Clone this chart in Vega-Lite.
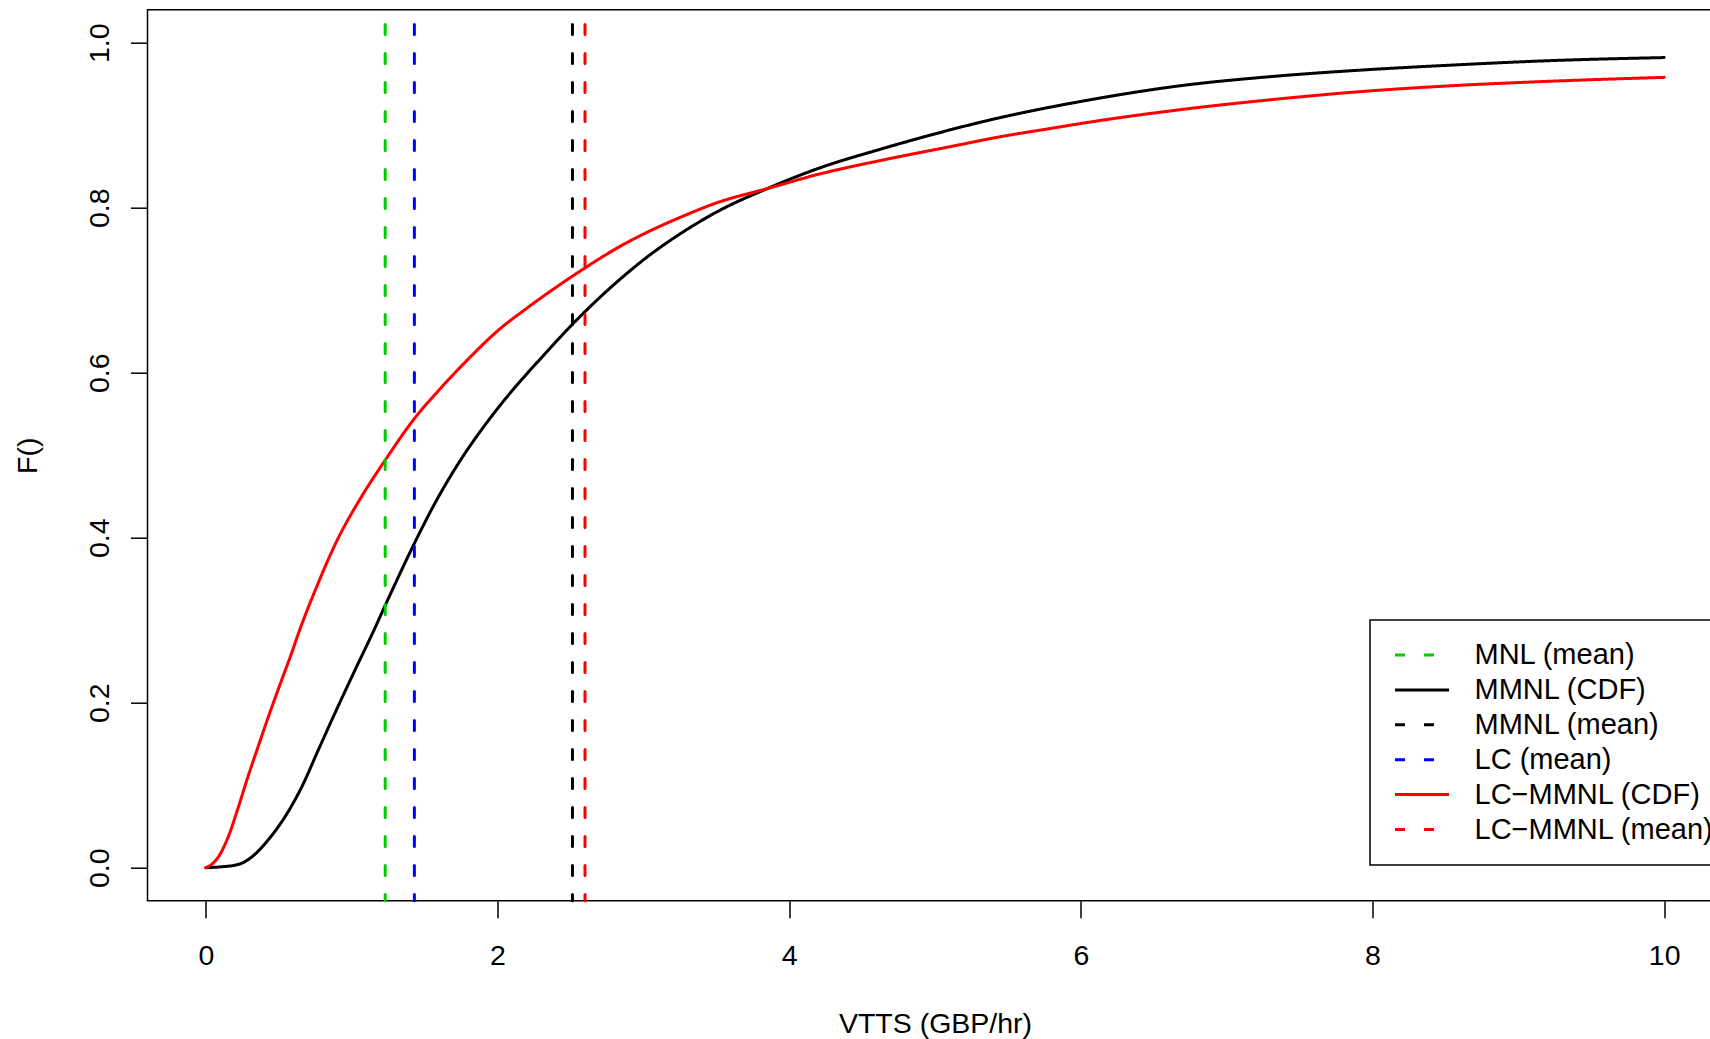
{
 "$schema": "https://vega.github.io/schema/vega-lite/v6.json",
 "width": 1575,
 "height": 891,
 "autosize": {"type": "none"},
 "padding": {"left": 147.5, "top": 9.7, "right": -12.5, "bottom": 138.3},
 "background": "white",
 "config": {
  "view": {"stroke": "black", "strokeWidth": 1.5},
  "axis": {"domain": false, "grid": false, "ticks": true, "tickSize": 17, "tickWidth": 1.5, "tickColor": "black",
   "labelFont": "Liberation Sans", "labelFontSize": 28.5, "labelColor": "black",
   "titleFont": "Liberation Sans", "titleFontSize": 28.5, "titleFontWeight": "normal", "titleColor": "black",
   "labelFlush": false, "labelOverlap": false}
 },
 "datasets": {
  "curves": [
   {"series": "MMNL (CDF)", "vtts": 0, "F": 0},
   {"series": "MMNL (CDF)", "vtts": 0.1, "F": 0.001},
   {"series": "MMNL (CDF)", "vtts": 0.224, "F": 0.004},
   {"series": "MMNL (CDF)", "vtts": 0.315, "F": 0.013},
   {"series": "MMNL (CDF)", "vtts": 0.429, "F": 0.034},
   {"series": "MMNL (CDF)", "vtts": 0.544, "F": 0.062},
   {"series": "MMNL (CDF)", "vtts": 0.658, "F": 0.098},
   {"series": "MMNL (CDF)", "vtts": 0.772, "F": 0.143},
   {"series": "MMNL (CDF)", "vtts": 0.887, "F": 0.188},
   {"series": "MMNL (CDF)", "vtts": 1.024, "F": 0.24},
   {"series": "MMNL (CDF)", "vtts": 1.161, "F": 0.291},
   {"series": "MMNL (CDF)", "vtts": 1.23, "F": 0.318},
   {"series": "MMNL (CDF)", "vtts": 1.298, "F": 0.344},
   {"series": "MMNL (CDF)", "vtts": 1.424, "F": 0.391},
   {"series": "MMNL (CDF)", "vtts": 1.584, "F": 0.446},
   {"series": "MMNL (CDF)", "vtts": 1.721, "F": 0.487},
   {"series": "MMNL (CDF)", "vtts": 1.95, "F": 0.545},
   {"series": "MMNL (CDF)", "vtts": 2.133, "F": 0.585},
   {"series": "MMNL (CDF)", "vtts": 2.316, "F": 0.621},
   {"series": "MMNL (CDF)", "vtts": 2.51, "F": 0.658},
   {"series": "MMNL (CDF)", "vtts": 2.6, "F": 0.674},
   {"series": "MMNL (CDF)", "vtts": 2.819, "F": 0.71},
   {"series": "MMNL (CDF)", "vtts": 3.047, "F": 0.743},
   {"series": "MMNL (CDF)", "vtts": 3.276, "F": 0.771},
   {"series": "MMNL (CDF)", "vtts": 3.505, "F": 0.795},
   {"series": "MMNL (CDF)", "vtts": 3.848, "F": 0.823},
   {"series": "MMNL (CDF)", "vtts": 4.19, "F": 0.847},
   {"series": "MMNL (CDF)", "vtts": 4.648, "F": 0.872},
   {"series": "MMNL (CDF)", "vtts": 4.99, "F": 0.889},
   {"series": "MMNL (CDF)", "vtts": 5.333, "F": 0.9045},
   {"series": "MMNL (CDF)", "vtts": 6.07, "F": 0.931},
   {"series": "MMNL (CDF)", "vtts": 6.69, "F": 0.948},
   {"series": "MMNL (CDF)", "vtts": 7.31, "F": 0.959},
   {"series": "MMNL (CDF)", "vtts": 7.94, "F": 0.967},
   {"series": "MMNL (CDF)", "vtts": 8.56, "F": 0.973},
   {"series": "MMNL (CDF)", "vtts": 9.18, "F": 0.978},
   {"series": "MMNL (CDF)", "vtts": 10, "F": 0.982},
   {"series": "LC−MMNL (CDF)", "vtts": 0, "F": 0},
   {"series": "LC−MMNL (CDF)", "vtts": 0.04, "F": 0.004},
   {"series": "LC−MMNL (CDF)", "vtts": 0.086, "F": 0.013},
   {"series": "LC−MMNL (CDF)", "vtts": 0.155, "F": 0.038},
   {"series": "LC−MMNL (CDF)", "vtts": 0.224, "F": 0.074},
   {"series": "LC−MMNL (CDF)", "vtts": 0.292, "F": 0.112},
   {"series": "LC−MMNL (CDF)", "vtts": 0.361, "F": 0.148},
   {"series": "LC−MMNL (CDF)", "vtts": 0.429, "F": 0.183},
   {"series": "LC−MMNL (CDF)", "vtts": 0.498, "F": 0.217},
   {"series": "LC−MMNL (CDF)", "vtts": 0.59, "F": 0.261},
   {"series": "LC−MMNL (CDF)", "vtts": 0.635, "F": 0.284},
   {"series": "LC−MMNL (CDF)", "vtts": 0.761, "F": 0.341},
   {"series": "LC−MMNL (CDF)", "vtts": 0.898, "F": 0.396},
   {"series": "LC−MMNL (CDF)", "vtts": 1.058, "F": 0.447},
   {"series": "LC−MMNL (CDF)", "vtts": 1.23, "F": 0.494},
   {"series": "LC−MMNL (CDF)", "vtts": 1.424, "F": 0.543},
   {"series": "LC−MMNL (CDF)", "vtts": 1.63, "F": 0.585},
   {"series": "LC−MMNL (CDF)", "vtts": 1.813, "F": 0.619},
   {"series": "LC−MMNL (CDF)", "vtts": 1.996, "F": 0.65},
   {"series": "LC−MMNL (CDF)", "vtts": 2.2, "F": 0.678},
   {"series": "LC−MMNL (CDF)", "vtts": 2.43, "F": 0.707},
   {"series": "LC−MMNL (CDF)", "vtts": 2.6, "F": 0.727},
   {"series": "LC−MMNL (CDF)", "vtts": 2.819, "F": 0.751},
   {"series": "LC−MMNL (CDF)", "vtts": 3.047, "F": 0.772},
   {"series": "LC−MMNL (CDF)", "vtts": 3.276, "F": 0.79},
   {"series": "LC−MMNL (CDF)", "vtts": 3.505, "F": 0.806},
   {"series": "LC−MMNL (CDF)", "vtts": 3.848, "F": 0.823},
   {"series": "LC−MMNL (CDF)", "vtts": 4.19, "F": 0.84},
   {"series": "LC−MMNL (CDF)", "vtts": 4.648, "F": 0.858},
   {"series": "LC−MMNL (CDF)", "vtts": 5.105, "F": 0.874},
   {"series": "LC−MMNL (CDF)", "vtts": 5.448, "F": 0.886},
   {"series": "LC−MMNL (CDF)", "vtts": 5.791, "F": 0.896},
   {"series": "LC−MMNL (CDF)", "vtts": 6.07, "F": 0.904},
   {"series": "LC−MMNL (CDF)", "vtts": 6.69, "F": 0.919},
   {"series": "LC−MMNL (CDF)", "vtts": 7.31, "F": 0.931},
   {"series": "LC−MMNL (CDF)", "vtts": 7.94, "F": 0.941},
   {"series": "LC−MMNL (CDF)", "vtts": 8.56, "F": 0.948},
   {"series": "LC−MMNL (CDF)", "vtts": 9.18, "F": 0.953},
   {"series": "LC−MMNL (CDF)", "vtts": 10, "F": 0.958}
  ],
  "means": [
   {"series": "MNL (mean)", "vtts": 1.23},
   {"series": "LC (mean)", "vtts": 1.43},
   {"series": "MMNL (mean)", "vtts": 2.514},
   {"series": "LC−MMNL (mean)", "vtts": 2.6}
  ]
 },
 "layer": [
  {
   "data": {"name": "curves"},
   "mark": {"type": "line", "strokeWidth": 3, "strokeJoin": "round", "strokeCap": "round", "interpolate": "monotone"},
   "encoding": {
    "x": {"field": "vtts", "type": "quantitative",
     "scale": {"domain": [-0.4, 10.4], "nice": false, "zero": false},
     "axis": {"values": [0, 2, 4, 6, 8, 10], "format": "d", "title": "VTTS (GBP/hr)",
      "labelBaseline": "alphabetic", "labelPadding": 47, "titleY": 132, "titleBaseline": "alphabetic"}},
    "y": {"field": "F", "type": "quantitative",
     "scale": {"domain": [-0.04, 1.04], "nice": false, "zero": false},
     "axis": {"values": [0, 0.2, 0.4, 0.6, 0.8, 1.0], "format": ".1f", "title": "F()",
      "labelAngle": -90, "labelAlign": "center", "labelBaseline": "alphabetic", "labelPadding": 22.5,
      "titleX": -111.5, "titleAngle": -90, "titleBaseline": "alphabetic"}},
    "color": {"field": "series", "type": "nominal",
     "scale": {"domain": ["MNL (mean)", "MMNL (CDF)", "MMNL (mean)", "LC (mean)", "LC−MMNL (CDF)", "LC−MMNL (mean)"],
      "range": ["#00CD00", "black", "black", "blue", "red", "red"]},
     "legend": {"title": null, "orient": "none", "legendX": 1222.5, "legendY": 610.3,
      "symbolType": "M-2,0H2", "symbolSize": 729, "symbolStrokeWidth": 3,
      "labelFont": "Liberation Sans", "labelFontSize": 29, "labelColor": "black", "labelLimit": 0,
      "rowPadding": 4.9, "padding": 20, "strokeColor": "black", "labelOffset": 37.5, "symbolOffset": 17,
      "encode": {"legend": {"update": {"strokeWidth": {"value": 1.5}}}}}},
    "strokeDash": {"field": "series", "type": "nominal",
     "scale": {"domain": ["MNL (mean)", "MMNL (CDF)", "MMNL (mean)", "LC (mean)", "LC−MMNL (CDF)", "LC−MMNL (mean)"],
      "range": [[10, 19], [1, 0], [10, 19], [10, 19], [1, 0], [10, 19]]},
     "legend": {"title": null, "orient": "none", "legendX": 1222.5, "legendY": 610.3,
      "symbolType": "M-2,0H2", "symbolSize": 729, "symbolStrokeWidth": 3,
      "labelFont": "Liberation Sans", "labelFontSize": 29, "labelColor": "black", "labelLimit": 0,
      "rowPadding": 4.9, "padding": 20, "strokeColor": "black", "labelOffset": 37.5, "symbolOffset": 17}}
   }
  },
  {
   "data": {"name": "means"},
   "mark": {"type": "rule", "strokeWidth": 3, "strokeCap": "round", "strokeDashOffset": 14.2},
   "encoding": {
    "x": {"field": "vtts", "type": "quantitative"},
    "color": {"field": "series", "type": "nominal"},
    "strokeDash": {"field": "series", "type": "nominal"}
   }
  }
 ]
}
